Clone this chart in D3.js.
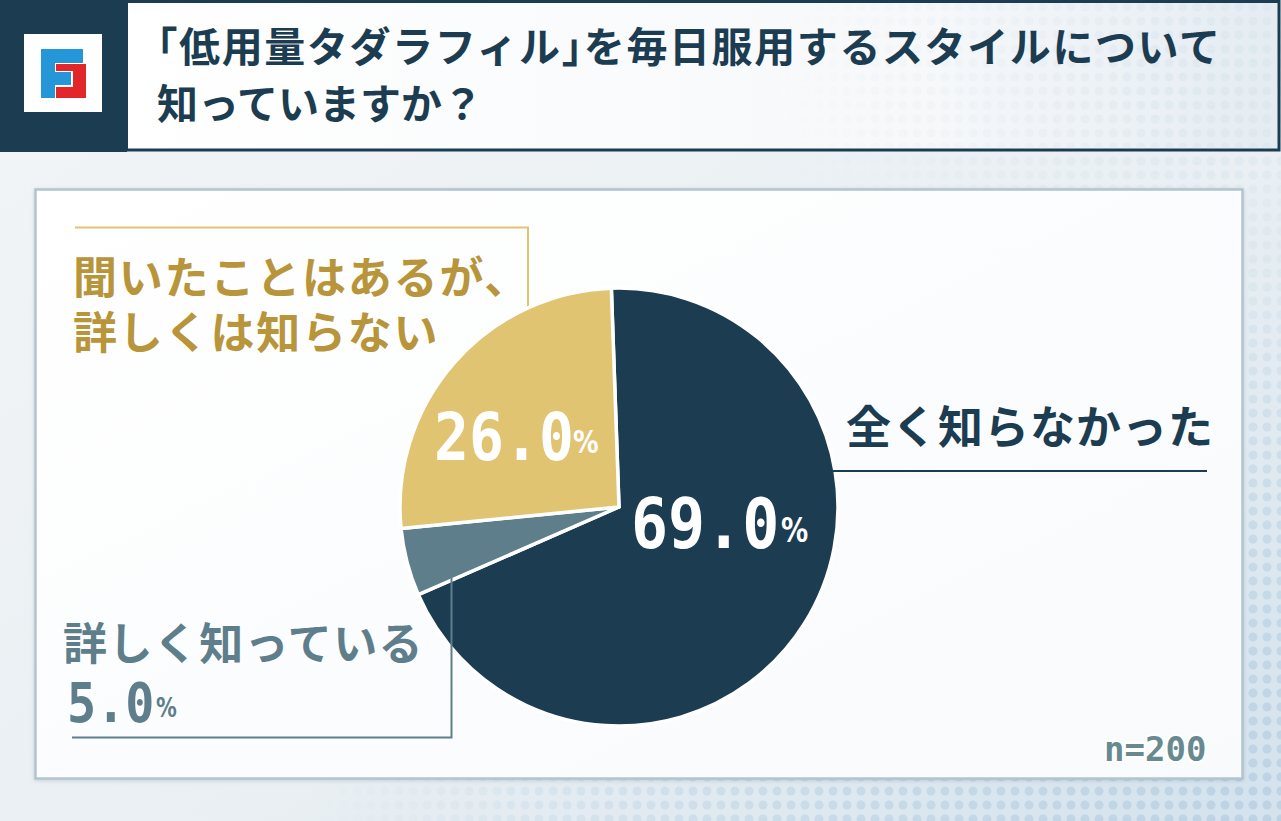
<!DOCTYPE html>
<html><head><meta charset="utf-8">
<script src="https://cdn.jsdelivr.net/npm/d3@7"></script>
<style>html,body{margin:0;padding:0;background:#fff}svg{display:block}.half{font-feature-settings:"halt" 1}</style>
</head><body><svg id="c" width="1281" height="821"></svg>
<script>
// ---- data ----
const titleLines = ["「低用量タダラフィル」を毎日服用するスタイルについて", "知っていますか？"];
const categories = ["全く知らなかった", "詳しく知っている", "聞いたことはあるが、詳しくは知らない"];
const categoryLines = [["全く知らなかった"], ["詳しく知っている"], ["聞いたことはあるが、", "詳しくは知らない"]];
const values = [69.0, 5.0, 26.0];
const sliceColors = ["#1c3c51", "#5e7e8b", "#e1c472"];
const textColors = ["#1c3c51", "#5e7e8b", "#b8953a"];
const sampleLabel = "n=200";

// ---- layout ----
const W = 1281, H = 821;
const svg = d3.select("#c");
const defs = svg.append("defs");
const JP = "'Noto Sans CJK JP','Noto Sans',sans-serif";
const MONO = "'DejaVu Sans Mono',monospace";
const SANS = "'DejaVu Sans',sans-serif";

// gradients
const bg = defs.append("linearGradient").attr("id", "bg").attr("x1", 0).attr("y1", 0).attr("x2", 1).attr("y2", 1);
bg.append("stop").attr("offset", 0).attr("stop-color", "#f2f5f7");
bg.append("stop").attr("offset", 0.6).attr("stop-color", "#e9eff3");
bg.append("stop").attr("offset", 1).attr("stop-color", "#d3e2ed");
const tb = defs.append("linearGradient").attr("id", "tb").attr("x1", 0).attr("y1", 0).attr("x2", 1).attr("y2", 0);
tb.append("stop").attr("offset", 0).attr("stop-color", "#ffffff");
tb.append("stop").attr("offset", 0.7).attr("stop-color", "#f6f8fa");
tb.append("stop").attr("offset", 1).attr("stop-color", "#e4ecf2");
const pn = defs.append("linearGradient").attr("id", "pn").attr("x1", 0).attr("y1", 0).attr("x2", 1).attr("y2", 1);
pn.append("stop").attr("offset", 0).attr("stop-color", "#ffffff");
pn.append("stop").attr("offset", 1).attr("stop-color", "#f8fafc");

// halftone dots
const pat = defs.append("pattern").attr("id", "dots").attr("width", 14).attr("height", 14).attr("patternUnits", "userSpaceOnUse");
pat.append("circle").attr("cx", 7).attr("cy", 7).attr("r", 4.5).attr("fill", "#bcd2e3");
const rg = defs.append("radialGradient").attr("id", "rg").attr("cx", 1).attr("cy", 1).attr("r", 0.75);
rg.append("stop").attr("offset", 0).attr("stop-color", "#fff").attr("stop-opacity", 1);
rg.append("stop").attr("offset", 0.6).attr("stop-color", "#fff").attr("stop-opacity", 0.5);
rg.append("stop").attr("offset", 1).attr("stop-color", "#fff").attr("stop-opacity", 0);
defs.append("mask").attr("id", "m").append("rect").attr("width", W).attr("height", H).attr("fill", "url(#rg)");
const rg2 = defs.append("radialGradient").attr("id", "rg2").attr("cx", 0.95).attr("cy", 0.1).attr("r", 0.35);
rg2.append("stop").attr("offset", 0).attr("stop-color", "#fff").attr("stop-opacity", 0.6);
rg2.append("stop").attr("offset", 1).attr("stop-color", "#fff").attr("stop-opacity", 0);
defs.append("mask").attr("id", "m2").append("rect").attr("width", W).attr("height", H).attr("fill", "url(#rg2)");

const sh = defs.append("filter").attr("id", "sh").attr("x", -0.05).attr("y", -0.05).attr("width", 1.1).attr("height", 1.1);
sh.append("feDropShadow").attr("dx", 0).attr("dy", 1).attr("stdDeviation", 2).attr("flood-color", "#7f97a8").attr("flood-opacity", 0.35);

// background
svg.append("rect").attr("width", W).attr("height", H).attr("fill", "url(#bg)");
svg.append("rect").attr("width", W).attr("height", H).attr("fill", "url(#dots)").attr("mask", "url(#m)");
svg.append("rect").attr("width", W).attr("height", H).attr("fill", "url(#dots)").attr("mask", "url(#m2)").attr("opacity", 0.4);

// header
svg.append("rect").attr("x", 0).attr("y", 0).attr("width", 127).attr("height", 152).attr("fill", "#1c3c51");
svg.append("rect").attr("x", 126.5).attr("y", 1.5).attr("width", 1152.5).attr("height", 148.5)
  .attr("fill", "url(#tb)").attr("stroke", "#1c3c51").attr("stroke-width", 3);
svg.append("rect").attr("x", 128).attr("y", 3).attr("width", 1149.5).attr("height", 145.5)
  .attr("fill", "url(#dots)").attr("mask", "url(#m2)").attr("opacity", 0.35);

// logo
const lg = svg.append("g");
lg.append("rect").attr("x", 24).attr("y", 34).attr("width", 78).attr("height", 78).attr("fill", "#ffffff");
lg.append("rect").attr("x", 41).attr("y", 49).attr("width", 42).attr("height", 14).attr("fill", "#2597d9");
lg.append("rect").attr("x", 41).attr("y", 49).attr("width", 14).attr("height", 49).attr("fill", "#2597d9");
lg.append("rect").attr("x", 56).attr("y", 64).attr("width", 30).attr("height", 34).attr("fill", "#e3262a");
lg.append("rect").attr("x", 55).attr("y", 71).attr("width", 18).attr("height", 16).attr("fill", "#ffffff");
lg.append("rect").attr("x", 55).attr("y", 72).attr("width", 16).attr("height", 13).attr("fill", "#2597d9");

// title (brackets set half-width)
const tg = svg.append("g");
titleLines.forEach((line, i) => {
  const t = tg.append("text").attr("x", 157).attr("y", 62 + i * 57)
    .attr("font-family", JP).attr("font-weight", 700).attr("font-size", 41)
    .attr("letter-spacing", i === 0 ? 1.6 : 0)
    .attr("fill", "#1c3c51");
  const parts = line.split(/([「」])/).filter(s => s.length);
  parts.forEach(s => {
    const ts = t.append("tspan").text(s);
    if (s === "「" || s === "」") ts.attr("class", "half");
  });
});

// panel
svg.append("rect").attr("x", 35.5).attr("y", 189.5).attr("width", 1207).attr("height", 589)
  .attr("fill", "url(#pn)").attr("stroke", "#b3c4ce").attr("stroke-width", 2.5).attr("filter", "url(#sh)");

// pie
const cx = 619, cy = 507, R = 219;
const start = -0.035;
const pie = d3.pie().sort(null).value(d => d).startAngle(start).endAngle(start + 2 * Math.PI);
const arc = d3.arc().innerRadius(0).outerRadius(R);
const arcs = pie(values);

// gold leader line (behind)
svg.append("path").attr("d", d3.line()([[75, 227.5], [528, 227.5], [528, 420]]))
  .attr("fill", "none").attr("stroke", "#e1c472").attr("stroke-width", 2);

const pg = svg.append("g").attr("transform", `translate(${cx},${cy})`);
pg.selectAll("path").data(arcs).join("path")
  .attr("d", arc).attr("fill", (d, i) => sliceColors[i])
  .attr("stroke", "#ffffff").attr("stroke-width", 3.5).attr("stroke-linejoin", "round");

// navy leader
svg.append("line").attr("x1", 800).attr("x2", 1207).attr("y1", 471).attr("y2", 471)
  .attr("stroke", "#1c3c51").attr("stroke-width", 2);
// gray leader (over pie)
svg.append("path").attr("d", d3.line()([[451.5, 578], [451.5, 737.5], [72, 737.5]]))
  .attr("fill", "none").attr("stroke", "#5e7e8b").attr("stroke-width", 2);

// category labels (one text element per category, lines as tspans)
const catPos = [{x: 846, y: 444, fs: 45, ls: 1}, {x: 63, y: 660, fs: 44, ls: 1.4}, {x: 73, y: 294, fs: 44, ls: 1.8}];
categoryLines.forEach((lines, i) => {
  svg.append("text")
    .attr("font-family", JP).attr("font-weight", 700).attr("font-size", catPos[i].fs)
    .attr("letter-spacing", catPos[i].ls)
    .attr("fill", textColors[i])
    .selectAll("tspan").data(lines).join("tspan")
    .attr("x", catPos[i].x).attr("y", (d, j) => catPos[i].y + j * 55)
    .text(d => d);
});

// value labels
const valPos = [
  {x: 631, y: 548, fs: 70, px: 781, py: 542, pfs: 34, c: "#ffffff"},
  {x: 67, y: 722, fs: 55, px: 156, py: 717, pfs: 26, c: "#5e7e8b"},
  {x: 434, y: 460, fs: 66, px: 573, py: 453, pfs: 32, c: "#ffffff"}
];
values.forEach((v, i) => {
  const p = valPos[i];
  svg.append("text").attr("transform", `translate(${p.x},${p.y}) scale(0.88,1)`)
    .attr("font-family", MONO).attr("font-weight", 700).attr("font-size", p.fs)
    .attr("fill", p.c).text(d3.format(".1f")(v));
  svg.append("text").attr("transform", `translate(${p.px},${p.py}) scale(0.8,1)`)
    .attr("font-family", SANS).attr("font-weight", 700).attr("font-size", p.pfs)
    .attr("fill", p.c).text("%");
});

// n label
svg.append("text").attr("x", 1104).attr("y", 761)
  .attr("font-family", MONO).attr("font-weight", 700).attr("font-size", 34)
  .attr("fill", "#668a90").attr("stroke", "#ffffff").attr("stroke-width", 4).attr("paint-order", "stroke")
  .text(sampleLabel);
</script></body></html>
